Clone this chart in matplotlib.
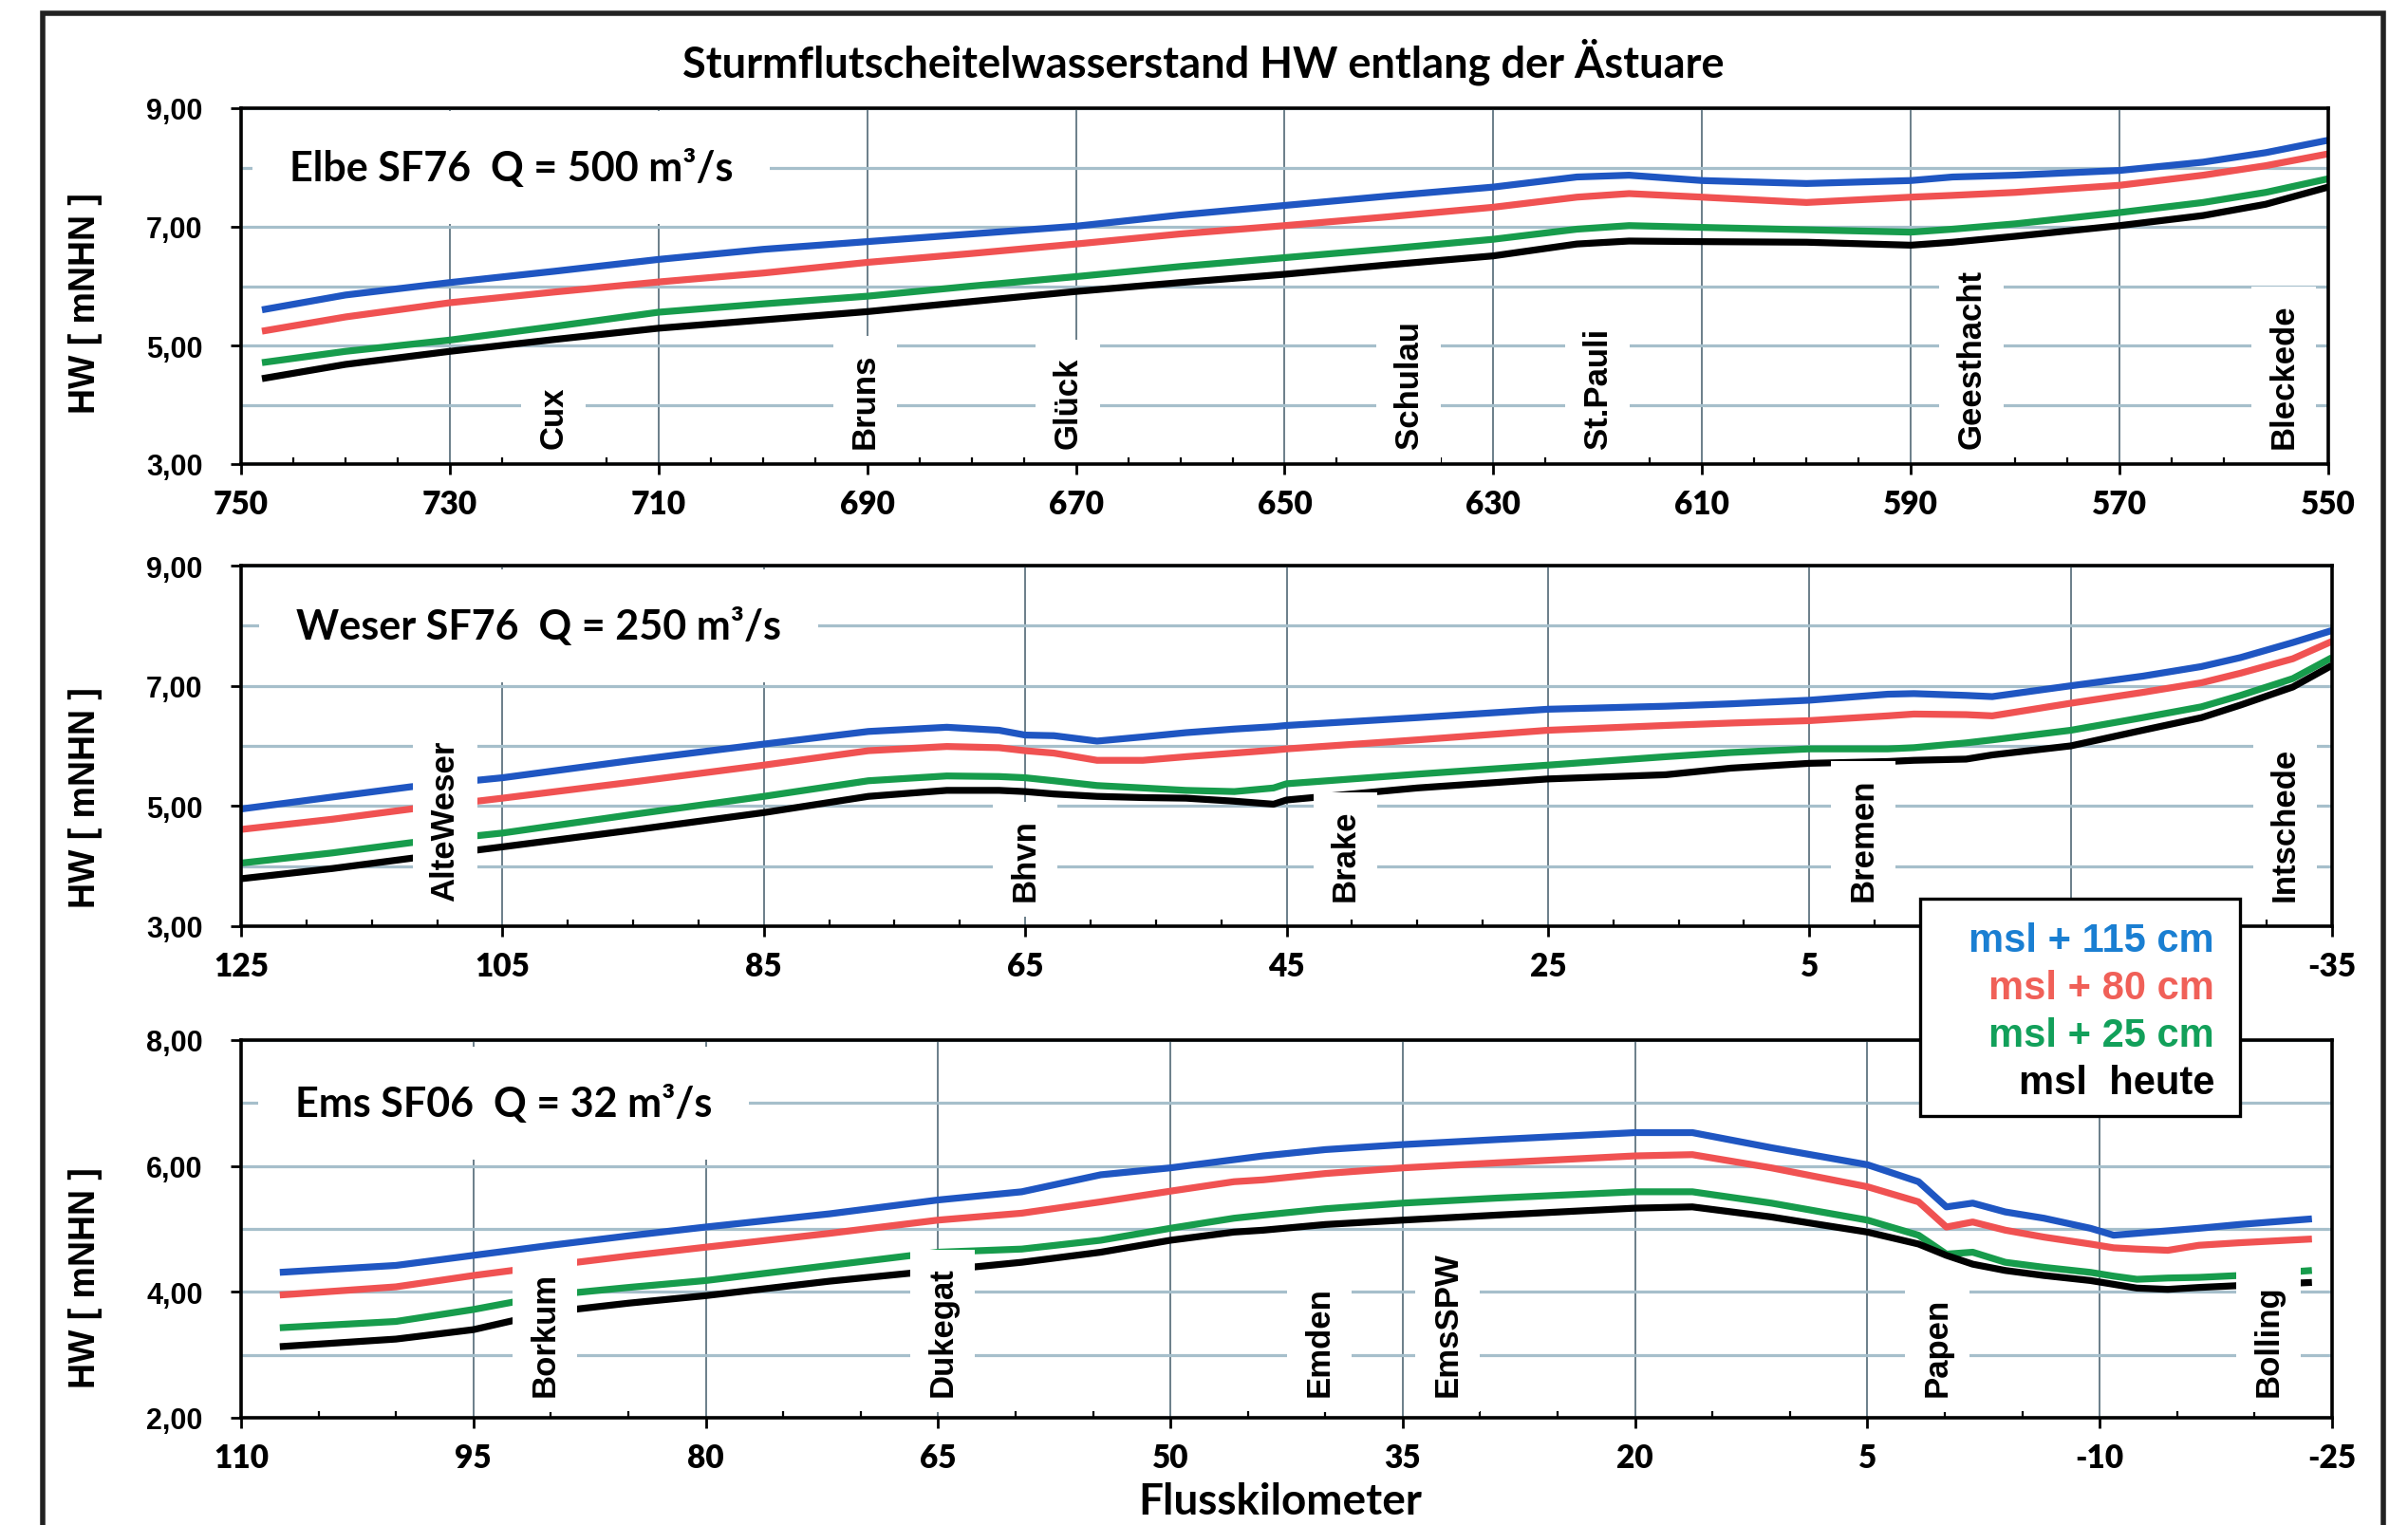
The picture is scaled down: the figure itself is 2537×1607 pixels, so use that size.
import matplotlib
matplotlib.use("Agg")
import matplotlib.pyplot as plt
from matplotlib.patches import Rectangle

W, H = 2537, 1608
plt.rcParams['axes.unicode_minus'] = False

ARIAL = ['Liberation Sans', 'DejaVu Sans']
CALIBRI = ['Lato', 'DejaVu Sans']

TITLE = "Sturmflutscheitelwasserstand HW entlang der Ästuare"
SERIES = ["msl + 115 cm", "msl + 80 cm", "msl + 25 cm", "msl  heute"]
LINE_COLORS = ['#1f56c2', '#f05252', '#179c4c', '#000000']
TEXT_COLORS = ['#1a7fd2', '#f06058', '#12a05a', '#000000']

# ---- Elbe
elbe_km = [748, 740, 730, 720, 710, 700, 690, 680, 670, 660, 650, 640, 630,
           622, 617, 610, 600, 590, 586, 580, 570, 562, 556, 550]
elbe_115 = [5.60, 5.85, 6.06, 6.25, 6.45, 6.62, 6.75, 6.88, 7.01, 7.20, 7.36, 7.52, 7.67,
            7.84, 7.87, 7.78, 7.73, 7.78, 7.84, 7.87, 7.95, 8.09, 8.25, 8.46]
elbe_80 = [5.24, 5.48, 5.72, 5.90, 6.07, 6.22, 6.40, 6.55, 6.71, 6.88, 7.02, 7.17, 7.33,
           7.50, 7.56, 7.50, 7.41, 7.50, 7.53, 7.58, 7.70, 7.87, 8.03, 8.23]
elbe_25 = [4.71, 4.90, 5.09, 5.32, 5.56, 5.70, 5.83, 6.00, 6.16, 6.33, 6.48, 6.63, 6.79,
           6.96, 7.02, 6.99, 6.95, 6.91, 6.96, 7.05, 7.24, 7.41, 7.58, 7.81]
elbe_0 = [4.44, 4.68, 4.90, 5.10, 5.29, 5.43, 5.57, 5.74, 5.91, 6.06, 6.20, 6.36, 6.51,
          6.71, 6.76, 6.75, 6.74, 6.69, 6.74, 6.84, 7.02, 7.19, 7.38, 7.67]
elbe_stations = ["Cux", "Bruns", "Glück", "Schulau", "St.Pauli", "Geesthacht", "Bleckede"]
elbe_station_km = [720.1, 690.2, 670.8, 638.1, 620.0, 584.2, 554.3]

# ---- Weser
weser_km = [125, 118, 112, 105, 95, 85, 77, 71, 67, 65, 62.8, 59.5, 56, 52.7, 49, 46, 45,
            35, 25, 16, 11, 5, -1, -3, -7, -9, -15, -20.5, -25, -28, -32, -35]
weser_115 = [4.95, 5.15, 5.32, 5.47, 5.76, 6.03, 6.24, 6.31, 6.26, 6.18, 6.17, 6.08, 6.15,
             6.22, 6.28, 6.32, 6.34, 6.47, 6.61, 6.66, 6.70, 6.76, 6.86, 6.87, 6.84, 6.82,
             7.00, 7.16, 7.32, 7.47, 7.72, 7.92]
weser_80 = [4.61, 4.78, 4.95, 5.13, 5.40, 5.68, 5.92, 5.99, 5.97, 5.92, 5.88, 5.76, 5.76,
            5.82, 5.88, 5.93, 5.95, 6.10, 6.26, 6.34, 6.38, 6.42, 6.50, 6.53, 6.52, 6.50,
            6.71, 6.89, 7.05, 7.21, 7.45, 7.74]
weser_25 = [4.05, 4.22, 4.39, 4.55, 4.86, 5.16, 5.42, 5.50, 5.49, 5.47, 5.42, 5.34, 5.30,
            5.26, 5.24, 5.30, 5.37, 5.53, 5.68, 5.82, 5.89, 5.95, 5.95, 5.97, 6.05, 6.10,
            6.26, 6.47, 6.65, 6.84, 7.12, 7.47]
weser_0 = [3.79, 3.96, 4.13, 4.32, 4.60, 4.89, 5.16, 5.26, 5.26, 5.24, 5.20, 5.16, 5.14,
           5.13, 5.08, 5.03, 5.10, 5.30, 5.45, 5.52, 5.63, 5.71, 5.74, 5.76, 5.78, 5.85,
           6.00, 6.26, 6.47, 6.68, 6.98, 7.34]
weser_stations = ["AlteWeser", "Bhvn", "Brake", "Bremen", "Intschede"]
weser_station_km = [109.4, 65.0, 40.5, 0.9, -31.4]

# ---- Ems
ems_km = [107.5, 100, 95, 90, 85, 80, 72, 65, 59.6, 54.5, 50, 45.9, 44, 40, 35, 28.9, 20,
          16.3, 11.2, 5, 1.7, -0.1, -1.8, -3.9, -6.4, -9.4, -10.9, -12.4, -14.4, -16.4,
          -19, -23.7]
ems_115 = [4.31, 4.42, 4.58, 4.74, 4.89, 5.03, 5.24, 5.46, 5.59, 5.86, 5.97, 6.10, 6.16,
           6.26, 6.34, 6.42, 6.53, 6.53, 6.29, 6.02, 5.75, 5.35, 5.41, 5.27, 5.17, 5.01,
           4.90, 4.93, 4.97, 5.01, 5.07, 5.16]
ems_80 = [3.95, 4.08, 4.26, 4.42, 4.57, 4.71, 4.93, 5.14, 5.25, 5.43, 5.60, 5.75, 5.78,
          5.88, 5.97, 6.05, 6.16, 6.18, 5.97, 5.67, 5.43, 5.03, 5.11, 4.98, 4.87, 4.76,
          4.70, 4.68, 4.66, 4.74, 4.78, 4.84]
ems_25 = [3.43, 3.53, 3.72, 3.95, 4.07, 4.18, 4.42, 4.63, 4.68, 4.82, 5.01, 5.17, 5.22,
          5.32, 5.41, 5.49, 5.59, 5.59, 5.41, 5.14, 4.90, 4.60, 4.63, 4.47, 4.39, 4.31,
          4.25, 4.20, 4.22, 4.23, 4.26, 4.34]
ems_0 = [3.13, 3.25, 3.40, 3.68, 3.82, 3.94, 4.17, 4.34, 4.47, 4.63, 4.82, 4.95, 4.98,
         5.07, 5.14, 5.22, 5.33, 5.35, 5.19, 4.95, 4.76, 4.58, 4.44, 4.34, 4.26, 4.18,
         4.12, 4.06, 4.04, 4.07, 4.10, 4.15]
ems_stations = ["Borkum", "Dukegat", "Emden", "EmsSPW", "Papen", "Bolling"]
ems_station_km = [90.4, 64.7, 40.4, 32.1, 0.5, -20.9]

# ---- axes settings
elbe_xticks = list(range(750, 549, -20))
weser_xticks = list(range(125, -36, -20))
ems_xticks = list(range(110, -26, -15))
elbe_xlabels = [str(v) for v in elbe_xticks]
weser_xlabels = [str(v) if v != -15 else "" for v in weser_xticks]  # hidden by legend
ems_xlabels = [str(v) for v in ems_xticks]
elbe_yticks = [3, 5, 7, 9]
weser_yticks = [3, 5, 7, 9]
ems_yticks = [2, 4, 6, 8]

panels = [
    dict(title="Elbe SF76  Q = 500 m³/s", km=elbe_km, ys=[elbe_115, elbe_80, elbe_25, elbe_0],
         st=elbe_stations, st_km=elbe_station_km, xlim=(750, 550), xt=elbe_xticks,
         xl=elbe_xlabels, ylim=(3, 9), yt=elbe_yticks, box=(254, 115, 2453, 490),
         lab_y=8.0, st_y=3.27, title_x=305, ylab_y=320),
    dict(title="Weser SF76  Q = 250 m³/s", km=weser_km, ys=[weser_115, weser_80, weser_25, weser_0],
         st=weser_stations, st_km=weser_station_km, xlim=(125, -35), xt=weser_xticks,
         xl=weser_xlabels, ylim=(3, 9), yt=weser_yticks, box=(254, 597, 2457, 977),
         lab_y=8.0, st_y=3.43, title_x=312, ylab_y=841),
    dict(title="Ems SF06  Q = 32 m³/s", km=ems_km, ys=[ems_115, ems_80, ems_25, ems_0],
         st=ems_stations, st_km=ems_station_km, xlim=(110, -25), xt=ems_xticks,
         xl=ems_xlabels, ylim=(2, 8), yt=ems_yticks, box=(254, 1097, 2457, 1495),
         lab_y=7.0, st_y=2.35, title_x=311, ylab_y=1347),
]

fig = plt.figure(figsize=(W / 100, H / 100), dpi=100)
fig.patch.set_facecolor('white')

for p in panels:
    l, t, r, b = p['box']
    ax = fig.add_axes([l / W, 1 - b / H, (r - l) / W, (b - t) / H])
    ax.set_xlim(*p['xlim'])
    ax.set_ylim(*p['ylim'])

    for ys, c in zip(p['ys'], LINE_COLORS):
        ax.plot(p['km'], ys, color=c, lw=5.2, solid_capstyle='butt',
                solid_joinstyle='round', zorder=3)

    ax.set_xticks(p['xt'])
    ax.set_xticklabels(p['xl'])
    lo, hi = p['xlim']
    ax.set_xticks([v for v in range(int(min(lo, hi)), int(max(lo, hi)) + 1, 5)
                   if v not in p['xt']], minor=True)
    ax.set_yticks(p['yt'])
    ax.set_yticklabels([f"{v:.2f}".replace('.', ',') for v in p['yt']])
    ax.set_yticks([v for v in range(p['ylim'][0], p['ylim'][1] + 1) if v not in p['yt']],
                  minor=True)

    ax.grid(axis='x', which='major', color='#5f7480', lw=1.3, zorder=1)
    ax.grid(axis='y', which='both', color='#a6bfcb', lw=2.3, zorder=1)

    ax.tick_params(axis='x', which='major', direction='out', length=8, width=2,
                   pad=11, labelsize=24)
    ax.tick_params(axis='x', which='minor', direction='in', length=5, width=1.6)
    ax.tick_params(axis='y', which='major', direction='out', length=8, width=2,
                   pad=21, labelsize=22)
    ax.tick_params(axis='y', which='minor', length=0)
    for lab in ax.get_xticklabels():
        lab.set_family(CALIBRI)
        lab.set_fontweight('heavy')
    for lab in ax.get_yticklabels():
        lab.set_family(ARIAL)
        lab.set_fontweight('bold')

    for s in ax.spines.values():
        s.set_linewidth(2.6)
        s.set_color('black')
        s.set_zorder(6)

    for name, xk in zip(p['st'], p['st_km']):
        ax.text(xk, p['st_y'], name, rotation=90, ha='center', va='bottom',
                fontsize=25, fontweight='bold', family=ARIAL, zorder=5,
                bbox=dict(boxstyle='square,pad=0.5', fc='white', ec='none'))

    ax.text((p['title_x'] - l) / (r - l),
            (p['lab_y'] - p['ylim'][0]) / (p['ylim'][1] - p['ylim'][0]),
            p['title'], transform=ax.transAxes,
            fontsize=31, fontweight='bold', family=CALIBRI, ha='left', va='center',
            zorder=5, bbox=dict(boxstyle='square,pad=0.9', fc='white', ec='none'))

    fig.text(90 / W, 1 - p['ylab_y'] / H, "HW [ mNHN ]", rotation=90, ha='center',
             va='center', fontsize=27, fontweight='bold', family=ARIAL)

fig.text(1268 / W, 1 - 65 / H, TITLE, ha='center', va='center', fontsize=32.5,
         fontweight='bold', family=CALIBRI)
fig.text(1349 / W, 1 - 1583 / H, "Flusskilometer", ha='center', va='center',
         fontsize=33, fontweight='bold', family=CALIBRI)

# legend box
fig.patches.append(Rectangle((2023 / W, 1 - 1177 / H), (2360 - 2023) / W, (1177 - 948) / H,
                             transform=fig.transFigure, fc='white', ec='black', lw=2.4,
                             zorder=10))
for i, (name, c) in enumerate(zip(SERIES, TEXT_COLORS)):
    fig.text(2333 / W, 1 - (1003 + 50 * i) / H, name, ha='right', va='baseline',
             fontsize=30, fontweight='bold', family=ARIAL, color=c, zorder=11)

# outer frame
fig.patches.append(Rectangle((45 / W, -0.05), (2511 - 45) / W, 1.05 - 15 / H,
                             transform=fig.transFigure, fill=False, ec='#222222', lw=4,
                             zorder=12))

fig.savefig("out.png", dpi=100)
